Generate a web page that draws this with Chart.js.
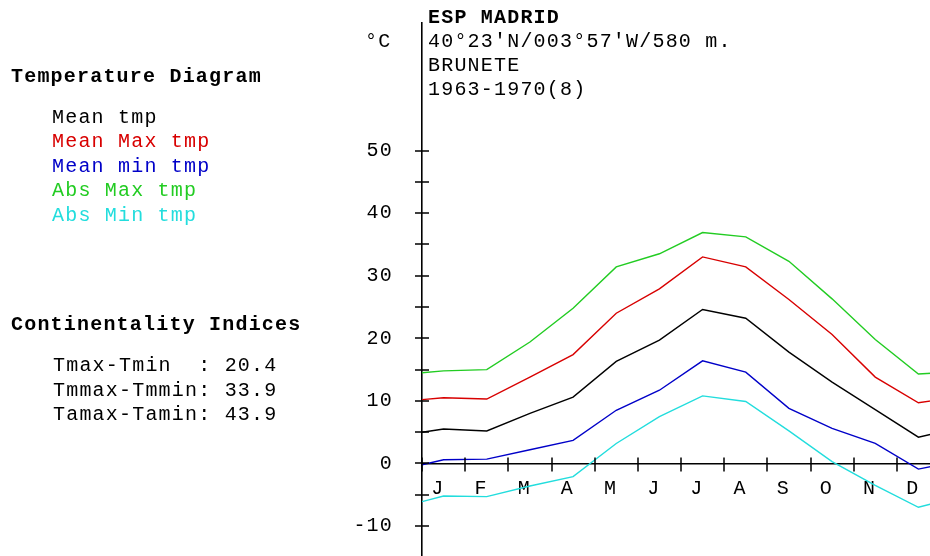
<!DOCTYPE html>
<html>
<head>
<meta charset="utf-8">
<script src="https://cdn.jsdelivr.net/npm/chart.js@4.4.1/dist/chart.umd.min.js"></script>
<style>
  html, body { margin: 0; padding: 0; background: #fff; }
  body { width: 930px; height: 556px; overflow: hidden; position: relative; }
  #wrap { position: absolute; left: 0; top: 0; width: 940px; height: 556px; }
  .txt {
    position: absolute;
    font-family: "Liberation Mono", "Courier New", monospace;
    font-size: 20px;
    letter-spacing: 1.2px;
    line-height: 24px;
    white-space: pre;
    color: #000;
  }
  .bold { font-weight: bold; }
</style>
</head>
<body>
<div id="wrap"><canvas id="climChart" width="940" height="556"></canvas></div>

<div class="txt bold" style="left:11px;top:64.5px">Temperature Diagram</div>
<div class="txt" id="legend" style="left:52px;top:105.5px;line-height:24.5px"></div>
<div class="txt bold" style="left:11px;top:312.5px">Continentality Indices</div>
<div class="txt" id="indices" style="left:53px;top:354px;line-height:24.5px"></div>

<div class="txt" style="left:365px;top:29.5px">°C</div>
<div class="txt" style="left:428px;top:5.5px"><span class="bold">ESP MADRID</span>
40°23'N/003°57'W/580 m.
BRUNETE
1963-1970(8)</div>

<script>
// Monthly values
const months = ['J', 'F', 'M', 'A', 'M', 'J', 'J', 'A', 'S', 'O', 'N', 'D'];
const meanTmp    = [5.5, 5.2, 8.0, 10.6, 16.3, 19.7, 24.6, 23.2, 17.8, 13.0, 8.6, 4.2];
const meanMaxTmp = [10.5, 10.3, 13.8, 17.4, 24.0, 27.9, 33.0, 31.4, 26.2, 20.6, 13.8, 9.7];
const meanMinTmp = [0.6, 0.7, 2.2, 3.7, 8.5, 11.7, 16.4, 14.6, 8.8, 5.6, 3.2, -0.9];
const absMaxTmp  = [14.8, 15.0, 19.4, 24.8, 31.4, 33.5, 36.9, 36.2, 32.3, 26.3, 19.8, 14.3];
const absMinTmp  = [-5.2, -5.3, -3.6, -2.1, 3.2, 7.5, 10.8, 9.9, 5.2, 0.3, -3.5, -7.0];
// where each curve meets the year boundary (left axis / right edge)
const yearEdge   = [5.0, 10.2, -0.2, 14.5, -6.1];

const seriesNames  = ['Mean tmp', 'Mean Max tmp', 'Mean min tmp', 'Abs Max tmp', 'Abs Min tmp'];
const seriesColors = ['#000000', '#d80000', '#0000c8', '#22cc22', '#22dddd'];
const allSeries    = [meanTmp, meanMaxTmp, meanMinTmp, absMaxTmp, absMinTmp];

const indexNames  = ['Tmax-Tmin  ', 'Tmmax-Tmmin', 'Tamax-Tamin'];
const indexValues = [20.4, 33.9, 43.9];

const yTicks = [-10, -5, 0, 5, 10, 15, 20, 25, 30, 35, 40, 45, 50];

// axis range / look
const yMin = -14.78, yMax = 70.37;
const labelShift = 0.37; // month letters sit a bit left of the month middle
const monoFont = { family: '"Liberation Mono", "Courier New", monospace', size: 20 };

// side texts
document.getElementById('legend').innerHTML = seriesNames
  .map((n, k) => `<span style="color:${seriesColors[k]}">${n}</span>`).join('\n');
document.getElementById('indices').textContent = indexNames
  .map((n, k) => `${n}: ${indexValues[k].toFixed(1)}`).join('\n');

function seriesPoints(vals, edge) {
  const pts = [{ x: 0, y: edge }];
  vals.forEach((v, i) => pts.push({ x: i + 0.5, y: v }));
  pts.push({ x: 12, y: edge });
  return pts;
}

// tick marks that cross both axes
const crossTicks = {
  id: 'crossTicks',
  afterDraw(chart) {
    const { ctx, chartArea, scales: { x, y } } = chart;
    const left = chartArea.left;
    const y0 = y.getPixelForValue(0);
    ctx.save();
    ctx.strokeStyle = '#000';
    ctx.lineWidth = 1.5;
    ctx.beginPath();
    y.ticks.forEach(t => {
      const py = Math.round(y.getPixelForValue(t.value));
      ctx.moveTo(left - 7, py);
      ctx.lineTo(left + 7, py);
    });
    x.ticks.forEach(t => {
      const px = Math.round(x.getPixelForValue(t.value));
      ctx.moveTo(px, y0 - 6);
      ctx.lineTo(px, y0 + 8);
    });
    ctx.stroke();
    ctx.restore();
  }
};

// courier-like spacing for canvas text
const monoSpacing = {
  id: 'monoSpacing',
  beforeUpdate(chart) { chart.ctx.letterSpacing = '1.2px'; },
  beforeDraw(chart) { chart.ctx.letterSpacing = '1.2px'; }
};

const ctx = document.getElementById('climChart').getContext('2d');

const chart = new Chart(ctx, {
  type: 'line',
  data: {
    datasets: seriesNames.map((name, k) => ({
      label: name,
      data: seriesPoints(allSeries[k], yearEdge[k]),
      borderColor: seriesColors[k],
      borderWidth: 1.4,
      pointRadius: 0,
      tension: 0,
      xAxisID: 'x',
      yAxisID: 'y'
    }))
  },
  options: {
    responsive: false,
    animation: false,
    devicePixelRatio: 1,
    layout: { padding: { top: 23, left: 0, right: 0, bottom: 0 } },
    plugins: {
      legend: { display: false },
      tooltip: { enabled: false }
    },
    scales: {
      x: {
        type: 'linear',
        min: 0,
        max: 12,
        position: { y: 0 },
        afterBuildTicks: s => { s.ticks = months.map((m, i) => ({ value: i })); },
        ticks: { display: false },
        grid: { display: false, drawTicks: false },
        border: { color: '#000', width: 1.6 }
      },
      xm: {
        type: 'linear',
        min: 0,
        max: 12,
        position: { y: 0 },
        z: 1,
        afterBuildTicks: s => { s.ticks = months.map((m, i) => ({ value: i + labelShift })); },
        ticks: {
          callback: (v, i) => months[i],
          font: monoFont,
          color: '#000',
          padding: 13,
          maxRotation: 0,
          autoSkip: false,
          showLabelBackdrop: true,
          backdropColor: '#fff',
          backdropPadding: { x: 3, y: 0 }
        },
        grid: { display: false, drawTicks: false },
        border: { display: false }
      },
      y: {
        type: 'linear',
        position: 'left',
        min: yMin,
        max: yMax,
        afterBuildTicks: s => { s.ticks = yTicks.map(v => ({ value: v })); },
        afterFit: s => { s.width = 422; s.paddingTop = 0; s.paddingBottom = 0; },
        ticks: {
          callback: v => (v % 10 === 0 ? String(v) : ''),
          font: monoFont,
          color: '#000',
          padding: 29,
          autoSkip: false
        },
        grid: { display: true, drawOnChartArea: false, drawTicks: false },
        border: { color: '#000', width: 1.6 }
      }
    }
  },
  plugins: [crossTicks, monoSpacing]
});
</script>
</body>
</html>
